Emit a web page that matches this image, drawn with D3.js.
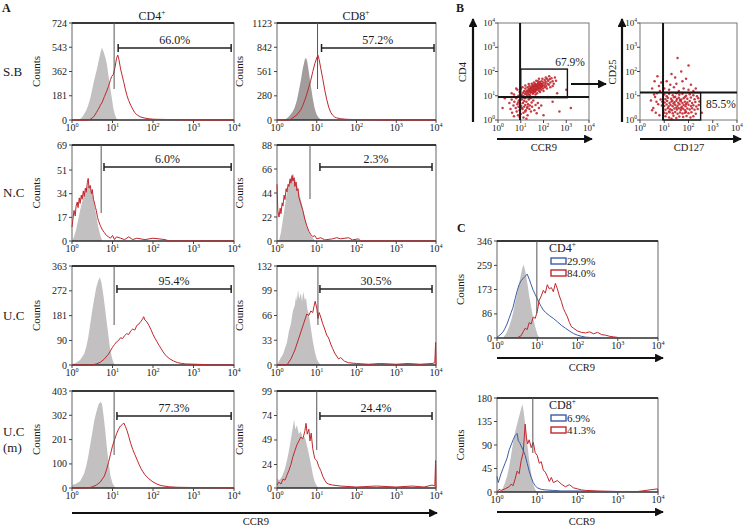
<!DOCTYPE html>
<html><head><meta charset="utf-8">
<script src="https://cdn.jsdelivr.net/npm/d3@7"></script>
<style>
body{margin:0;background:#fff}
svg{display:block}
text{font-family:"Liberation Serif","Times New Roman",serif;fill:#1a1a1a}
</style>
</head><body>
<svg id="c" width="743" height="528"></svg>
<script>
// ---------------- DATA (x = log10 fluorescence, y = counts) ----------------
const decades = [0,1,2,3,4];
// Panel A, S.B
const sbCD4Ticks = [0,181,362,543,724];
const sbCD4Iso = [[0.15,0],[0.2,8],[0.25,20],[0.3,45],[0.35,70],[0.4,110],[0.45,160],[0.5,230],[0.55,300],[0.6,360],[0.65,430],[0.7,500],[0.74,540],[0.78,510],[0.82,470],[0.86,420],[0.9,330],[0.94,250],[0.98,170],[1.02,90],[1.06,40],[1.1,10],[1.14,0]];
const sbCD4Ccr9 = [[0,0],[0.4,0],[0.45,6],[0.5,15],[0.55,30],[0.6,55],[0.65,80],[0.7,110],[0.75,135],[0.8,175],[0.85,210],[0.9,250],[0.95,300],[0.98,325],[1.02,340],[1.06,390],[1.1,460],[1.13,485],[1.16,450],[1.2,380],[1.24,330],[1.28,280],[1.32,225],[1.36,180],[1.4,145],[1.45,110],[1.5,80],[1.55,55],[1.6,40],[1.65,30],[1.7,22],[1.8,14],[1.9,9],[2.0,6],[2.1,5],[2.3,4],[2.5,3],[2.6,2],[2.8,1],[3.0,0],[4,0]];
const sbCD8Ticks = [0,280,561,842,1123];
const sbCD8Iso = [[0.2,0],[0.25,20],[0.3,40],[0.35,70],[0.4,100],[0.45,150],[0.5,230],[0.55,340],[0.6,460],[0.65,600],[0.7,700],[0.73,720],[0.76,680],[0.8,560],[0.85,400],[0.9,250],[0.95,130],[1.0,60],[1.05,25],[1.1,5],[1.15,0]];
const sbCD8Ccr9 = [[0,0],[0.3,0],[0.35,10],[0.4,25],[0.5,60],[0.6,120],[0.65,170],[0.7,230],[0.75,300],[0.8,380],[0.85,460],[0.9,560],[0.95,650],[1.0,720],[1.03,750],[1.06,700],[1.1,600],[1.15,480],[1.2,350],[1.25,240],[1.3,150],[1.35,90],[1.4,55],[1.45,35],[1.5,25],[1.6,15],[1.7,10],[1.8,7],[2.0,5],[2.2,3],[2.4,2],[2.6,0],[4,0]];
// Panel A, N.C
const ncCD4Ticks = [0,17,34,51,69];
const ncCD4Iso = [[0,0],[0.05,3],[0.1,8],[0.15,15],[0.2,22],[0.25,28],[0.3,33],[0.35,37],[0.4,40],[0.45,38],[0.5,34],[0.55,27],[0.6,18],[0.65,10],[0.7,4],[0.75,0]];
const ncCD4Ccr9 = [[0,10],[0.02,15],[0.05,22],[0.08,18],[0.1,25],[0.13,28],[0.15,24],[0.18,31],[0.2,27],[0.23,33],[0.25,30],[0.28,36],[0.3,32],[0.33,38],[0.35,35],[0.38,42],[0.4,45],[0.42,38],[0.45,40],[0.48,34],[0.5,37],[0.53,30],[0.55,28],[0.58,24],[0.6,22],[0.63,17],[0.65,15],[0.7,11],[0.75,8],[0.8,6],[0.85,4],[0.9,3],[0.95,2],[1.0,4],[1.05,1],[1.1,3],[1.2,2],[1.3,1],[1.4,3],[1.5,1],[1.6,2],[1.8,1],[2.0,2],[2.3,1],[2.4,0],[4,0]];
const ncCD8Ticks = [0,22,44,66,88];
const ncCD8Iso = [[0.05,0],[0.1,8],[0.15,20],[0.2,32],[0.25,45],[0.3,52],[0.35,58],[0.4,62],[0.45,57],[0.5,52],[0.55,45],[0.6,38],[0.65,30],[0.7,22],[0.75,14],[0.8,8],[0.9,3],[0.95,0]];
const ncCD8Ccr9 = [[0,52],[0.02,28],[0.05,22],[0.08,30],[0.1,25],[0.13,35],[0.15,32],[0.18,42],[0.2,38],[0.23,48],[0.25,45],[0.28,52],[0.3,50],[0.33,57],[0.35,53],[0.38,60],[0.4,55],[0.43,58],[0.45,50],[0.48,54],[0.5,46],[0.53,48],[0.55,40],[0.6,34],[0.65,28],[0.7,20],[0.75,14],[0.8,9],[0.85,6],[0.9,4],[0.95,5],[1.0,2],[1.1,3],[1.2,1],[1.4,2],[1.5,3],[1.6,2],[1.8,3],[1.9,1],[2.05,2],[2.1,0],[4,0]];
// Panel A, U.C
const ucCD4Ticks = [0,90,181,272,363];
const ucCD4Iso = [[0,3],[0.1,8],[0.2,18],[0.3,40],[0.35,65],[0.4,100],[0.45,150],[0.5,200],[0.55,245],[0.6,285],[0.65,310],[0.69,322],[0.73,300],[0.78,250],[0.83,190],[0.88,130],[0.93,70],[0.98,30],[1.02,10],[1.06,0]];
const ucCD4Ccr9 = [[0,0],[0.5,0],[0.6,4],[0.7,10],[0.8,22],[0.9,40],[0.95,52],[1.0,65],[1.05,75],[1.1,85],[1.15,90],[1.2,100],[1.25,97],[1.3,108],[1.35,115],[1.4,112],[1.45,125],[1.5,132],[1.55,128],[1.6,145],[1.65,150],[1.7,160],[1.74,168],[1.77,177],[1.8,165],[1.85,158],[1.9,145],[1.95,130],[2.0,112],[2.05,98],[2.1,85],[2.15,72],[2.2,60],[2.25,48],[2.3,38],[2.35,30],[2.4,24],[2.5,15],[2.6,9],[2.7,6],[2.8,4],[3.0,3],[3.2,2],[3.4,0],[4,0]];
const ucCD8Ticks = [0,33,66,99,132];
const ucCD8Iso = [[0,0],[0.05,5],[0.1,10],[0.15,14],[0.2,22],[0.25,30],[0.3,45],[0.35,55],[0.4,72],[0.45,80],[0.48,92],[0.5,85],[0.53,100],[0.56,88],[0.6,96],[0.63,84],[0.66,98],[0.7,86],[0.73,90],[0.76,75],[0.8,68],[0.85,50],[0.9,32],[0.95,18],[1.0,8],[1.05,3],[1.1,0]];
const ucCD8Ccr9 = [[0,0],[0.25,0],[0.3,4],[0.35,8],[0.4,14],[0.45,20],[0.5,28],[0.55,36],[0.6,44],[0.65,52],[0.7,60],[0.75,68],[0.8,66],[0.85,72],[0.9,70],[0.93,78],[0.96,85],[1.0,76],[1.03,62],[1.06,70],[1.1,64],[1.15,55],[1.2,48],[1.25,40],[1.3,36],[1.35,28],[1.4,22],[1.45,16],[1.5,12],[1.55,8],[1.6,10],[1.7,5],[1.8,3],[2.0,2],[2.3,1],[2.6,2],[3.0,1],[3.3,2],[3.6,1],[3.9,2],[3.97,3],[3.99,30],[4,0]];
// Panel A, U.C (m)
const umCD4Ticks = [0,100,201,302,403];
const umCD4Iso = [[0,12],[0.1,18],[0.2,28],[0.3,60],[0.35,90],[0.4,130],[0.45,180],[0.5,230],[0.55,280],[0.6,315],[0.65,345],[0.7,358],[0.74,350],[0.78,300],[0.82,240],[0.86,170],[0.9,110],[0.95,50],[1.0,20],[1.05,5],[1.08,0]];
const umCD4Ccr9 = [[0,0],[0.4,0],[0.5,5],[0.6,12],[0.7,25],[0.8,50],[0.85,75],[0.9,105],[0.95,140],[1.0,175],[1.05,200],[1.1,225],[1.15,245],[1.2,258],[1.25,265],[1.28,270],[1.32,255],[1.36,238],[1.4,215],[1.45,185],[1.5,160],[1.55,140],[1.6,120],[1.65,100],[1.7,82],[1.75,68],[1.8,55],[1.9,38],[2.0,25],[2.1,16],[2.2,10],[2.4,5],[2.6,3],[3.0,2],[3.5,1],[4,0]];
const umCD8Ticks = [0,24,49,74,99];
const umCD8Iso = [[0,10],[0.05,8],[0.1,10],[0.15,14],[0.2,20],[0.25,28],[0.3,38],[0.35,50],[0.4,62],[0.43,70],[0.46,60],[0.5,64],[0.55,55],[0.6,58],[0.65,50],[0.7,52],[0.75,44],[0.8,35],[0.85,25],[0.9,14],[0.95,6],[1.0,2],[1.05,0]];
const umCD8Ccr9 = [[0,3],[0.05,6],[0.1,4],[0.15,9],[0.2,8],[0.25,13],[0.3,18],[0.35,24],[0.4,32],[0.45,38],[0.5,44],[0.55,48],[0.6,52],[0.65,50],[0.7,58],[0.73,66],[0.76,55],[0.8,60],[0.83,48],[0.86,56],[0.9,40],[0.95,30],[1.0,28],[1.05,22],[1.1,18],[1.15,12],[1.2,8],[1.25,5],[1.3,4],[1.4,3],[1.6,2],[2.0,1],[2.5,2],[3.0,1],[3.4,2],[3.7,1],[3.9,3],[3.97,2],[3.99,28],[4,0]];
const aPercents = ["66.0%","57.2%","6.0%","2.3%","95.4%","30.5%","77.3%","24.4%"];
const aGates = [1.04,1.02,0.72,0.83,1.04,1.03,1.04,1.0];
const aBracketStart = [1.14,1.12,0.79,1.08,1.11,1.08,1.11,1.08];
const aBracketEnd = [3.93,3.95,3.93,3.9,3.93,3.9,3.93,3.9];
const rowLabels = [["S.B"],["N.C"],["U.C"],["U.C","(m)"]];
// Panel C
const cCD4Ticks = [0,86,173,259,346];
const cCD4Iso = [[0.15,0],[0.2,10],[0.25,22],[0.3,40],[0.35,62],[0.4,90],[0.45,125],[0.5,160],[0.55,195],[0.6,230],[0.63,250],[0.66,262],[0.7,240],[0.75,200],[0.8,150],[0.85,110],[0.9,70],[0.95,40],[1.0,15],[1.05,0]];
const cCD4Blue = [[0,3],[0.05,8],[0.1,14],[0.15,22],[0.2,35],[0.25,50],[0.3,70],[0.35,90],[0.4,110],[0.45,140],[0.5,168],[0.55,190],[0.6,205],[0.65,212],[0.7,220],[0.75,228],[0.8,210],[0.85,190],[0.9,170],[0.95,155],[1.0,140],[1.05,125],[1.1,112],[1.15,100],[1.2,92],[1.3,80],[1.4,70],[1.5,58],[1.6,45],[1.7,35],[1.8,25],[1.9,16],[2.0,10],[2.1,6],[2.2,3],[2.4,1],[2.6,0]];
const cCD4Red = [[0.5,0],[0.55,5],[0.6,8],[0.65,22],[0.7,35],[0.75,30],[0.8,55],[0.85,50],[0.9,75],[0.95,70],[1.0,95],[1.05,135],[1.1,150],[1.15,170],[1.2,160],[1.25,190],[1.3,175],[1.35,180],[1.4,165],[1.45,195],[1.5,175],[1.55,150],[1.6,130],[1.65,105],[1.7,90],[1.75,75],[1.8,55],[1.85,40],[1.9,35],[2.0,25],[2.1,20],[2.2,18],[2.3,22],[2.4,15],[2.5,20],[2.6,12],[2.7,10],[2.8,6],[2.9,4],[3.0,2],[3.05,0]];
const cCD8Ticks = [0,45,90,135,180];
const cCD8Iso = [[0.1,0],[0.15,8],[0.2,18],[0.25,30],[0.3,48],[0.35,70],[0.4,95],[0.45,115],[0.5,130],[0.55,145],[0.6,160],[0.63,168],[0.66,155],[0.7,130],[0.75,95],[0.8,60],[0.85,35],[0.9,15],[0.95,5],[1.0,0]];
const cCD8Blue = [[0,30],[0.03,18],[0.06,25],[0.1,35],[0.15,45],[0.2,55],[0.25,65],[0.3,80],[0.35,90],[0.4,100],[0.45,108],[0.5,112],[0.53,98],[0.56,95],[0.6,88],[0.65,80],[0.7,70],[0.75,55],[0.8,40],[0.85,28],[0.9,18],[0.95,12],[1.0,8],[1.1,5],[1.2,4],[1.4,3],[1.6,2],[2.0,2],[2.5,1],[3.0,0]];
const cCD8Red = [[0,0],[0.05,5],[0.1,3],[0.2,6],[0.3,10],[0.35,15],[0.4,12],[0.45,25],[0.5,40],[0.55,35],[0.6,60],[0.65,75],[0.7,130],[0.73,105],[0.76,92],[0.8,100],[0.85,85],[0.9,95],[0.95,75],[1.0,70],[1.05,55],[1.1,58],[1.15,42],[1.2,38],[1.25,30],[1.3,20],[1.35,28],[1.4,18],[1.5,22],[1.6,15],[1.7,10],[1.8,14],[1.9,8],[2.0,6],[2.1,4],[2.2,3],[2.5,2],[3.0,1],[3.5,1],[3.99,6],[4,0]];
const cLegendCD4 = ["29.9%","84.0%"];
const cLegendCD8 = ["6.9%","41.3%"];
// Panel B (log10 CCR9, log10 CD4) and (log10 CD127, log10 CD25)
const bCD4Points = [[1.05,1.02],[1.1,1.12],[1.12,0.98],[1.15,1.2],[1.18,1.08],[1.2,1.3],[1.22,1.15],[1.25,1.05],[1.27,1.22],[1.3,1.35],[1.3,1.1],[1.32,1.18],[1.35,1.28],[1.36,1.05],[1.38,1.4],[1.4,1.2],[1.42,1.32],[1.44,1.12],[1.45,1.25],[1.47,1.38],[1.5,1.18],[1.5,1.3],[1.52,1.45],[1.53,1.08],[1.55,1.25],[1.56,1.35],[1.58,1.2],[1.6,1.42],[1.6,1.3],[1.62,1.15],[1.63,1.5],[1.65,1.28],[1.66,1.38],[1.68,1.22],[1.7,1.45],[1.7,1.33],[1.72,1.1],[1.74,1.4],[1.75,1.28],[1.77,1.52],[1.78,1.35],[1.8,1.2],[1.82,1.45],[1.83,1.58],[1.85,1.3],[1.86,1.4],[1.88,1.5],[1.9,1.25],[1.92,1.6],[1.93,1.38],[1.95,1.48],[1.97,1.3],[2.0,1.55],[2.02,1.42],[2.05,1.65],[2.06,1.35],[2.08,1.5],[2.1,1.58],[2.12,1.4],[2.15,1.7],[2.18,1.5],[2.2,1.62],[2.24,1.45],[2.27,1.68],[2.3,1.55],[2.35,1.72],[2.4,1.6],[2.45,1.5],[2.5,1.75],[2.55,1.62],[0.95,1.15],[0.9,1.0],[0.85,1.25],[1.0,1.3],[1.08,1.35],[1.15,0.95],[1.28,0.98],[1.4,1.02],[1.48,1.5],[1.58,1.55],[1.65,1.05],[1.75,1.6],[1.85,1.15],[1.95,1.7],[2.0,1.2],[2.15,1.3],[2.25,1.8],[2.3,1.35],[1.35,1.48],[1.2,1.42],[1.55,1.12],[1.68,1.62],[1.8,1.7],[2.1,1.75],[2.4,1.4],[0.7,1.05],[0.6,1.1],[0.8,1.3],[1.45,1.3],[1.52,1.22],[1.6,1.25],[1.62,1.38],[1.7,1.25],[1.72,1.38],[1.78,1.42],[1.8,1.3],[1.88,1.35],[1.9,1.45],[1.55,1.4],[1.65,1.45],[1.42,1.15],[1.35,1.18],[1.5,1.35],[1.75,1.5],[1.95,1.4],[1.85,1.52],[1.62,1.2],[1.38,1.25],
[0.5,0.7],[0.55,0.45],[0.6,0.85],[0.62,0.3],[0.68,0.6],[0.7,0.15],[0.72,0.75],[0.78,0.5],[0.8,0.9],[0.82,0.35],[0.85,0.65],[0.88,0.2],[0.9,0.55],[0.92,0.8],[0.95,0.4],[0.98,0.68],[1.0,0.25],[1.02,0.58],[1.05,0.85],[1.08,0.45],[1.1,0.7],[1.12,0.3],[1.15,0.55],[1.18,0.9],[1.2,0.62],[1.22,0.4],[1.25,0.75],[1.28,0.5],[1.3,0.2],[1.32,0.65],[1.35,0.85],[1.38,0.45],[1.4,0.6],[1.45,0.35],[1.48,0.72],[1.5,0.55],[1.55,0.8],[1.6,0.4],[1.65,0.62],[1.7,0.28],[1.75,0.7],[1.8,0.5],[1.9,0.6],[1.12,0.1],[0.95,0.12],[1.25,0.05],[0.75,0.95],[1.15,0.78],[1.05,0.5],[1.3,0.55],[1.2,0.35],[0.88,0.72],[1.42,0.9],[1.0,0.95],
[2.0,0.2],[2.4,0.75],[3.0,1.25],[2.7,0.35],[2.6,1.1],[0.3,0.9],[0.2,0.5],[2.2,0.95],[3.2,0.5]];
const bCD25Points = [[1.0,1.05],[1.2,1.08],[1.35,1.02],[1.5,1.1],[1.62,1.04],[1.75,1.08],[1.9,1.0],[2.05,1.06],[2.2,1.02],[1.1,0.98],[1.45,0.96],[1.85,0.95],[2.35,0.98],
[0.95,0.9],[1.05,0.86],[1.15,0.92],[1.28,0.88],[1.4,0.94],[1.52,0.87],[1.6,0.92],[1.7,0.85],[1.8,0.9],[1.95,0.88],[2.1,0.93],[2.25,0.86],[2.4,0.9],[1.33,0.8],[1.65,0.82],
[0.92,0.75],[1.02,0.72],[1.12,0.78],[1.22,0.7],[1.3,0.76],[1.42,0.73],[1.5,0.79],[1.58,0.71],[1.68,0.77],[1.75,0.7],[1.85,0.75],[1.95,0.72],[2.05,0.78],[2.15,0.7],[2.28,0.74],[2.45,0.76],[1.38,0.68],[1.9,0.66],
[0.9,0.6],[1.0,0.58],[1.1,0.64],[1.18,0.56],[1.26,0.62],[1.35,0.57],[1.45,0.63],[1.55,0.59],[1.63,0.65],[1.72,0.55],[1.8,0.62],[1.88,0.57],[2.0,0.63],[2.1,0.58],[2.2,0.61],[2.32,0.56],[2.42,0.62],[1.5,0.52],[1.7,0.5],
[0.95,0.45],[1.05,0.42],[1.15,0.48],[1.25,0.44],[1.32,0.4],[1.42,0.47],[1.52,0.43],[1.6,0.48],[1.68,0.41],[1.78,0.46],[1.86,0.4],[1.95,0.47],[2.05,0.43],[2.15,0.48],[2.25,0.42],[2.38,0.45],[1.2,0.35],[1.9,0.33],
[1.0,0.3],[1.1,0.27],[1.22,0.32],[1.35,0.28],[1.45,0.33],[1.55,0.26],[1.65,0.31],[1.75,0.27],[1.85,0.3],[2.0,0.28],[2.12,0.32],[2.3,0.26],
[1.05,0.15],[1.2,0.1],[1.38,0.18],[1.5,0.08],[1.62,0.14],[1.78,0.12],[1.92,0.17],[2.08,0.1],[2.2,0.15],[1.3,0.05],
[0.45,0.8],[0.5,1.3],[0.55,0.5],[0.6,1.6],[0.62,0.95],[0.65,0.3],[0.7,1.1],[0.72,1.8],[0.75,0.65],[0.78,1.4],[0.8,0.2],[0.82,1.2],[0.85,0.85],[0.88,1.55],[0.58,1.05],[0.68,0.75],[0.5,0.4],
[1.0,1.3],[1.1,1.6],[1.2,1.25],[1.3,1.9],[1.4,1.35],[1.5,1.5],[1.6,1.2],[1.7,2.0],[1.8,1.3],[1.9,1.7],[2.0,1.25],[2.1,1.45],[2.2,1.2],[1.55,2.56],[2.0,2.25],[1.25,1.45],[1.75,1.6],[2.3,1.3],[1.45,1.75],
[2.55,0.3]];
const bPercents = ["67.9%","85.5%"];

// ---------------- DRAWING ----------------
const svg = d3.select('#c');
const RED = '#c1272d', BLUE = '#3d5ca8', GRAY = '#c2c0c0';

const defs = svg.append('defs');
defs.append('marker').attr('id','ah').attr('viewBox','0 0 10 10').attr('refX',9).attr('refY',5)
  .attr('markerWidth',4).attr('markerHeight',4).attr('orient','auto-start-reverse')
  .append('path').attr('d','M0,0L10,5L0,10z').attr('fill','#111');

function arrow(x1,y1,x2,y2){
  svg.append('line').attr('x1',x1).attr('y1',y1).attr('x2',x2).attr('y2',y2)
    .attr('stroke','#111').attr('stroke-width',2.2).attr('marker-end','url(#ah)');
}
function txt(x,y,s,size,anchor,extra){
  const t = svg.append('text').attr('x',x).attr('y',y).attr('font-size',size).attr('text-anchor',anchor||'start').text(s);
  if(extra) extra(t);
  return t;
}
function pow10(g,x,y,e,size,anchor){
  const t = g.append('text').attr('x',x).attr('y',y).attr('font-size',size).attr('text-anchor',anchor||'middle');
  t.append('tspan').text('10');
  t.append('tspan').attr('dy',-size*0.42).attr('font-size',size*0.62).text(e);
  return t;
}
function supText(x,y,base,sup,size,anchor){
  const t = svg.append('text').attr('x',x).attr('y',y).attr('font-size',size).attr('text-anchor',anchor||'middle');
  t.append('tspan').text(base);
  t.append('tspan').attr('dy',-size*0.4).attr('font-size',size*0.62).text(sup);
  return t;
}

function hist(o){
  const x = d3.scaleLinear().domain([0,4]).range([o.x0,o.x1]);
  const max = o.ticks[o.ticks.length-1];
  const y = d3.scaleLinear().domain([0,max]).range([o.y1,o.y0]);
  const g = svg.append('g');
  g.append('path').datum(o.iso)
    .attr('d', d3.area().x(d=>x(d[0])).y0(o.y1).y1(d=>y(d[1])).curve(d3.curveLinear))
    .attr('fill', o.isoColor || GRAY);
  // frame
  g.append('rect').attr('x',o.x0).attr('y',o.y0).attr('width',o.x1-o.x0).attr('height',o.y1-o.y0)
    .attr('fill','none').attr('stroke','#666').attr('stroke-width',1);
  g.append('line').attr('x1',o.x0).attr('x2',o.x1).attr('y1',o.y0).attr('y2',o.y0).attr('stroke','#111').attr('stroke-width',1.6);
  g.append('line').attr('x1',o.x0).attr('x2',o.x1).attr('y1',o.y1).attr('y2',o.y1).attr('stroke','#111').attr('stroke-width',1.2);
  o.lines.forEach(l=>{
    g.append('path').datum(l.data)
      .attr('d', d3.line().x(d=>x(d[0])).y(d=>y(d[1])).curve(d3.curveLinear))
      .attr('fill','none').attr('stroke',l.color).attr('stroke-width',1);
  });
  // y ticks
  o.ticks.forEach(v=>{
    g.append('line').attr('x1',o.x0-3).attr('x2',o.x0).attr('y1',y(v)).attr('y2',y(v)).attr('stroke','#444');
    g.append('text').attr('x',o.x0-5).attr('y',y(v)+3.5).attr('text-anchor','end').attr('font-size',10).text(v);
  });
  // x ticks
  decades.forEach(d=>{
    g.append('line').attr('x1',x(d)).attr('x2',x(d)).attr('y1',o.y1).attr('y2',o.y1+3).attr('stroke','#444');
    pow10(g,x(d),o.y1+11,String(d),10);
  });
  // gate
  if(o.gate!=null){
    g.append('line').attr('x1',x(o.gate)).attr('x2',x(o.gate)).attr('y1',o.y0).attr('y2',o.gateEnd)
      .attr('stroke','#555').attr('stroke-width',1);
  }
  if(o.bracket){
    const b = o.bracket, by = b.y;
    g.append('line').attr('x1',x(b.u0)).attr('x2',x(b.u1)).attr('y1',by).attr('y2',by).attr('stroke','#222').attr('stroke-width',1.5);
    [b.u0,b.u1].forEach(u=>g.append('line').attr('x1',x(u)).attr('x2',x(u)).attr('y1',by-4).attr('y2',by+4).attr('stroke','#222').attr('stroke-width',1.5));
    g.append('text').attr('x',(x(b.u0)+x(b.u1))/2).attr('y',by-4).attr('text-anchor','middle').attr('font-size',12).text(b.label);
  }
  // counts label
  g.append('text').attr('transform',`translate(${o.countsX},${(o.y0+o.y1)/2}) rotate(-90)`)
    .attr('text-anchor','middle').attr('font-size',11).text('Counts');
  return {x,y};
}

// Panel A
txt(2,12,'A',12,'start',t=>t.attr('font-weight','bold'));
supText(152,20,'CD4','+',12);
supText(356,20,'CD8','+',12);
const rowsY = [[23,120],[145,241],[266,365],[391,488]];
const colsX = [[72,234],[277,436]];
const countsX = [40,243];
const aIso = [sbCD4Iso,sbCD8Iso,ncCD4Iso,ncCD8Iso,ucCD4Iso,ucCD8Iso,umCD4Iso,umCD8Iso];
const aCcr9 = [sbCD4Ccr9,sbCD8Ccr9,ncCD4Ccr9,ncCD8Ccr9,ucCD4Ccr9,ucCD8Ccr9,umCD4Ccr9,umCD8Ccr9];
const aTicks = [sbCD4Ticks,sbCD8Ticks,ncCD4Ticks,ncCD8Ticks,ucCD4Ticks,ucCD8Ticks,umCD4Ticks,umCD8Ticks];
const gateEndsY = [89,89,213,199,325,325,455,450];
const bracketY = [48,48,167,167,289,289,416,416];
for(let r=0;r<4;r++){
  for(let c=0;c<2;c++){
    const i = r*2+c;
    hist({x0:colsX[c][0],x1:colsX[c][1],y0:rowsY[r][0],y1:rowsY[r][1],ticks:aTicks[i],
      iso:aIso[i], isoColor: i===1 ? '#a39c9c' : GRAY,
      lines:[{data:aCcr9[i],color:RED}], gate:aGates[i], gateEnd:gateEndsY[i],
      bracket:{u0:aBracketStart[i],u1:aBracketEnd[i],y:bracketY[i],label:aPercents[i]},
      countsX:countsX[c]});
  }
  const ly = (rowsY[r][0]+rowsY[r][1])/2 + 4 - (rowLabels[r].length-1)*8;
  rowLabels[r].forEach((s,k)=>txt(3,ly+k*16,s,13,'start'));
}
arrow(72,513,437,513);
txt(256,525,'CCR9',10.5,'middle');

// Panel B
txt(456,12,'B',12,'start',t=>t.attr('font-weight','bold'));
function scatter(o){
  const x = d3.scaleLinear().domain([0,4]).range([o.x0,o.x1]);
  const y = d3.scaleLinear().domain([0,4]).range([o.y1,o.y0]);
  const g = svg.append('g');
  g.append('rect').attr('x',o.x0).attr('y',o.y0).attr('width',o.x1-o.x0).attr('height',o.y1-o.y0)
    .attr('fill','none').attr('stroke','#777').attr('stroke-width',1);
  g.selectAll('circle.p').data(o.points).enter().append('circle')
    .attr('cx',d=>x(d[0])).attr('cy',d=>y(d[1])).attr('r',1.25).attr('fill',RED).attr('opacity',0.9);
  decades.forEach(d=>{
    g.append('line').attr('x1',o.x0-3).attr('x2',o.x0).attr('y1',y(d)).attr('y2',y(d)).attr('stroke','#444');
    pow10(g,o.x0-3,y(d)+3,String(d),9,'end');
    g.append('line').attr('x1',x(d)).attr('x2',x(d)).attr('y1',o.y1).attr('y2',o.y1+3).attr('stroke','#444');
    pow10(g,x(d),o.y1+11,String(d),9,'middle');
  });
  const K='#151515';
  g.append('line').attr('x1',x(o.vgate)).attr('x2',x(o.vgate)).attr('y1',o.y0).attr('y2',o.y1).attr('stroke',K).attr('stroke-width',2);
  g.append('line').attr('x1',o.x0).attr('x2',o.x1).attr('y1',y(o.hgate)).attr('y2',y(o.hgate)).attr('stroke',K).attr('stroke-width',2);
  const r = o.rect;
  g.append('rect').attr('x',x(r[0])).attr('y',y(r[3])).attr('width',x(r[1])-x(r[0])).attr('height',y(r[2])-y(r[3]))
    .attr('fill','none').attr('stroke',K).attr('stroke-width',1.4);
  g.append('text').attr('x',o.label[0]).attr('y',o.label[1]).attr('font-size',11.5).attr('text-anchor',o.anchor||'middle').text(o.pct);
  return {x,y};
}
scatter({x0:498,x1:589,y0:23,y1:120,points:bCD4Points,vgate:0.97,hgate:0.95,rect:[1.0,3.05,0.92,2.1],label:[570,66],pct:bPercents[0]});
scatter({x0:640,x1:737,y0:23,y1:120,points:bCD25Points,vgate:0.95,hgate:1.13,rect:[0.95,2.5,0,1.13],label:[706,108],anchor:'start',pct:bPercents[1]});
arrow(473,122,473,19);
arrow(622,122,622,19);
arrow(497,139,592,139);
arrow(640,139,741,139);
arrow(571,84,606,84);
txt(0,0,'CD4',10.5,'middle',t=>t.attr('transform','translate(466,72) rotate(-90)'));
txt(0,0,'CD25',10.5,'middle',t=>t.attr('transform','translate(616,72) rotate(-90)'));
txt(544,151,'CCR9',10.5,'middle');
txt(689,151,'CD127',10.5,'middle');

// Panel C
txt(457,232,'C',12,'start',t=>t.attr('font-weight','bold'));
function cPanel(o){
  hist({x0:497,x1:658,y0:o.y0,y1:o.y1,ticks:o.ticks,iso:o.iso,
    lines:[{data:o.blue,color:BLUE},{data:o.red,color:RED}],gate:o.gate,gateEnd:o.gateEnd,countsX:464});
  supText(549,o.y0+11,o.title,'+',12,'start');
  [BLUE,RED].forEach((col,k)=>{
    svg.append('rect').attr('x',551).attr('y',o.y0+17+k*12).attr('width',15).attr('height',6)
      .attr('fill','none').attr('stroke',col).attr('stroke-width',1.4);
    txt(567,o.y0+23.5+k*12,o.legend[k],11,'start');
  });
  arrow(497,o.arrowY,663,o.arrowY);
  txt(582,o.arrowY+13,'CCR9',10.5,'middle');
}
cPanel({y0:241,y1:338,ticks:cCD4Ticks,iso:cCD4Iso,blue:cCD4Blue,red:cCD4Red,gate:0.99,gateEnd:313,title:'CD4',legend:cLegendCD4,arrowY:358});
cPanel({y0:398,y1:492,ticks:cCD8Ticks,iso:cCD8Iso,blue:cCD8Blue,red:cCD8Red,gate:0.89,gateEnd:453,title:'CD8',legend:cLegendCD8,arrowY:512});
</script>
</body></html>
